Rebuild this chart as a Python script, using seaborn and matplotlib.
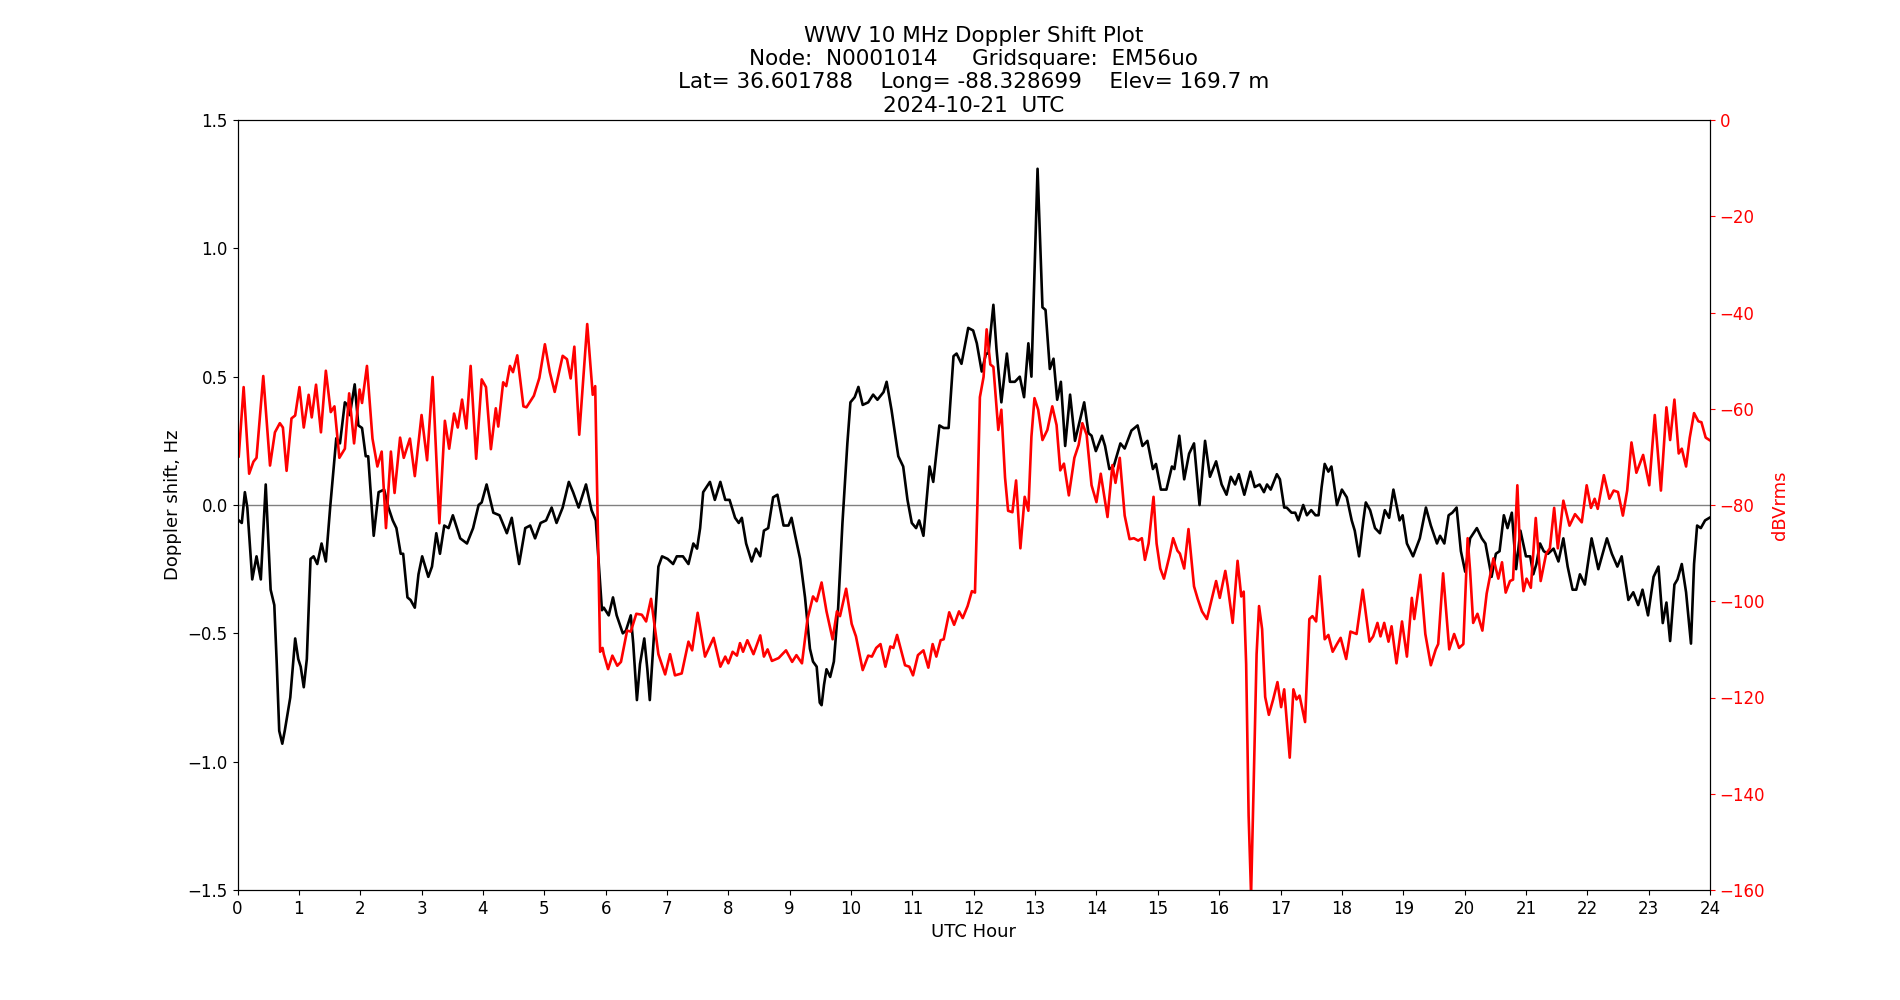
import matplotlib
matplotlib.use("Agg")
import matplotlib.pyplot as plt
import seaborn as sns
import pandas as pd

# ---- Doppler shift (Hz) vs UTC hour ----
dop_hours = [0.02, 0.07, 0.12, 0.16, 0.24, 0.31, 0.38, 0.46, 0.54, 0.60, 0.64, 0.68, 0.73, 0.77,
             0.86, 0.94, 0.99, 1.03, 1.08, 1.13, 1.19, 1.24, 1.30, 1.37, 1.44, 1.51, 1.61, 1.67,
             1.75, 1.79, 1.83, 1.91, 1.97, 2.03, 2.09, 2.13, 2.22, 2.30, 2.39, 2.46, 2.53, 2.59,
             2.66, 2.70, 2.77, 2.82, 2.89, 2.95, 3.01, 3.11, 3.17, 3.24, 3.30, 3.37, 3.44, 3.51,
             3.63, 3.74, 3.84, 3.93, 3.98, 4.06, 4.17, 4.27, 4.39, 4.47, 4.59, 4.69, 4.77, 4.85,
             4.94, 5.03, 5.12, 5.20, 5.30, 5.40, 5.47, 5.56, 5.68, 5.77, 5.84, 5.94, 5.97, 6.05,
             6.12, 6.18, 6.28, 6.33, 6.41, 6.45, 6.51, 6.56, 6.63, 6.68, 6.72, 6.79, 6.86, 6.92,
             7.01, 7.10, 7.16, 7.26, 7.35, 7.43, 7.49, 7.54, 7.59, 7.70, 7.78, 7.87, 7.95, 8.02,
             8.11, 8.17, 8.22, 8.29, 8.38, 8.45, 8.52, 8.58, 8.65, 8.73, 8.80, 8.90, 8.98, 9.03,
             9.09, 9.17, 9.25, 9.33, 9.38, 9.44, 9.49, 9.52, 9.56, 9.60, 9.66, 9.72, 9.79, 9.86,
             9.94, 9.99, 10.06, 10.12, 10.19, 10.28, 10.36, 10.43, 10.53, 10.58, 10.66, 10.77,
             10.85, 10.92, 10.99, 11.06, 11.11, 11.18, 11.28, 11.34, 11.44, 11.51, 11.59, 11.67,
             11.72, 11.78, 11.80, 11.91, 11.99, 12.05, 12.13, 12.20, 12.24, 12.32, 12.37, 12.45,
             12.54, 12.59, 12.67, 12.75, 12.82, 12.89, 12.94, 13.04, 13.12, 13.17, 13.24, 13.30,
             13.36, 13.42, 13.49, 13.57, 13.65, 13.73, 13.80, 13.87, 13.92, 13.99, 14.09, 14.14,
             14.21, 14.28, 14.39, 14.46, 14.57, 14.67, 14.75, 14.83, 14.92, 14.97, 15.05, 15.14,
             15.23, 15.27, 15.35, 15.43, 15.51, 15.59, 15.68, 15.77, 15.85, 15.95, 16.04, 16.12,
             16.19, 16.26, 16.32, 16.41, 16.51, 16.58, 16.66, 16.73, 16.78, 16.84, 16.94, 16.99,
             17.06, 17.10, 17.18, 17.24, 17.29, 17.37, 17.43, 17.50, 17.57, 17.62, 17.67, 17.72,
             17.78, 17.83, 17.92, 18.00, 18.08, 18.16, 18.21, 18.28, 18.35, 18.39, 18.46, 18.54,
             18.62, 18.70, 18.77, 18.84, 18.94, 18.99, 19.06, 19.16, 19.27, 19.37, 19.45, 19.55,
             19.60, 19.67, 19.74, 19.80, 19.87, 19.94, 20.01, 20.09, 20.20, 20.28, 20.34, 20.44,
             20.51, 20.57, 20.64, 20.70, 20.77, 20.84, 20.91, 21.00, 21.07, 21.12, 21.17, 21.23,
             21.29, 21.36, 21.45, 21.53, 21.61, 21.68, 21.76, 21.82, 21.88, 21.96, 22.07, 22.18,
             22.32, 22.40, 22.49, 22.56, 22.67, 22.75, 22.83, 22.90, 22.99, 23.08, 23.16, 23.23,
             23.29, 23.35, 23.42, 23.47, 23.54, 23.61, 23.69, 23.74, 23.79, 23.85, 23.92, 23.99]
dop_shift = [-0.06, -0.07, 0.05, -0.01, -0.29, -0.20, -0.29, 0.08, -0.33, -0.39, -0.62, -0.88, -0.93, -0.88,
             -0.75, -0.52, -0.60, -0.63, -0.71, -0.60, -0.21, -0.20, -0.23, -0.15, -0.22, -0.01, 0.26, 0.24,
             0.40, 0.39, 0.35, 0.47, 0.31, 0.30, 0.19, 0.19, -0.12, 0.05, 0.06, -0.01, -0.06, -0.09,
             -0.19, -0.19, -0.36, -0.37, -0.40, -0.27, -0.20, -0.28, -0.24, -0.11, -0.19, -0.08, -0.09, -0.04,
             -0.13, -0.15, -0.09, 0.00, 0.01, 0.08, -0.03, -0.04, -0.11, -0.05, -0.23, -0.09, -0.08, -0.13,
             -0.07, -0.06, -0.01, -0.07, -0.01, 0.09, 0.05, -0.01, 0.08, -0.02, -0.06, -0.41, -0.40, -0.43,
             -0.36, -0.43, -0.50, -0.49, -0.43, -0.54, -0.76, -0.62, -0.52, -0.64, -0.76, -0.50, -0.24, -0.20,
             -0.21, -0.23, -0.20, -0.20, -0.23, -0.15, -0.17, -0.09, 0.05, 0.09, 0.02, 0.09, 0.02, 0.02,
             -0.05, -0.07, -0.05, -0.15, -0.22, -0.17, -0.20, -0.10, -0.09, 0.03, 0.04, -0.08, -0.08, -0.05,
             -0.12, -0.21, -0.36, -0.56, -0.61, -0.63, -0.77, -0.78, -0.70, -0.64, -0.67, -0.61, -0.40, -0.07,
             0.24, 0.40, 0.42, 0.46, 0.39, 0.40, 0.43, 0.41, 0.44, 0.48, 0.37, 0.19,
             0.15, 0.02, -0.07, -0.09, -0.06, -0.12, 0.15, 0.09, 0.31, 0.30, 0.30, 0.58,
             0.59, 0.56, 0.55, 0.69, 0.68, 0.63, 0.52, 0.59, 0.59, 0.78, 0.61, 0.40,
             0.59, 0.48, 0.48, 0.50, 0.42, 0.63, 0.50, 1.31, 0.77, 0.76, 0.53, 0.57,
             0.41, 0.48, 0.23, 0.43, 0.25, 0.33, 0.40, 0.28, 0.27, 0.21, 0.27, 0.23,
             0.14, 0.15, 0.24, 0.22, 0.29, 0.31, 0.23, 0.25, 0.14, 0.16, 0.06, 0.06,
             0.15, 0.14, 0.27, 0.10, 0.20, 0.24, 0.00, 0.25, 0.11, 0.17, 0.08, 0.04,
             0.11, 0.08, 0.12, 0.04, 0.13, 0.07, 0.08, 0.05, 0.08, 0.06, 0.12, 0.10,
             -0.01, -0.01, -0.03, -0.03, -0.06, 0.00, -0.04, -0.02, -0.04, -0.04, 0.07, 0.16,
             0.13, 0.15, 0.00, 0.06, 0.03, -0.06, -0.10, -0.20, -0.06, 0.01, -0.02, -0.09,
             -0.11, -0.02, -0.05, 0.06, -0.06, -0.04, -0.15, -0.20, -0.13, -0.01, -0.08, -0.15,
             -0.12, -0.15, -0.04, -0.03, -0.01, -0.18, -0.26, -0.13, -0.09, -0.13, -0.15, -0.28,
             -0.19, -0.18, -0.04, -0.09, -0.03, -0.25, -0.10, -0.20, -0.20, -0.27, -0.23, -0.15,
             -0.18, -0.19, -0.17, -0.22, -0.13, -0.24, -0.33, -0.33, -0.27, -0.31, -0.13, -0.25,
             -0.13, -0.19, -0.24, -0.20, -0.37, -0.34, -0.39, -0.33, -0.43, -0.28, -0.24, -0.46,
             -0.38, -0.53, -0.31, -0.29, -0.23, -0.34, -0.54, -0.23, -0.08, -0.09, -0.06, -0.05]

# ---- Received signal level (dBVrms) vs UTC hour ----
amp_hours = [0.02, 0.10, 0.19, 0.26, 0.31, 0.42, 0.53, 0.61, 0.69, 0.74, 0.80, 0.88, 0.94, 1.01,
             1.08, 1.16, 1.21, 1.28, 1.36, 1.44, 1.52, 1.58, 1.66, 1.75, 1.82, 1.90, 1.99, 2.03,
             2.11, 2.20, 2.28, 2.35, 2.42, 2.50, 2.56, 2.65, 2.71, 2.81, 2.89, 3.00, 3.09, 3.18,
             3.29, 3.38, 3.45, 3.53, 3.59, 3.66, 3.73, 3.80, 3.89, 3.98, 4.05, 4.13, 4.21, 4.25,
             4.33, 4.38, 4.44, 4.49, 4.56, 4.66, 4.71, 4.83, 4.92, 5.01, 5.09, 5.17, 5.30, 5.37,
             5.43, 5.49, 5.57, 5.70, 5.79, 5.83, 5.91, 5.95, 5.97, 6.04, 6.11, 6.19, 6.25, 6.35,
             6.41, 6.50, 6.59, 6.66, 6.74, 6.86, 6.97, 7.05, 7.13, 7.24, 7.35, 7.41, 7.50, 7.62,
             7.76, 7.87, 7.95, 8.00, 8.07, 8.14, 8.19, 8.24, 8.31, 8.41, 8.52, 8.58, 8.64, 8.71,
             8.82, 8.94, 9.04, 9.11, 9.20, 9.29, 9.38, 9.44, 9.52, 9.60, 9.70, 9.77, 9.82, 9.92,
             10.01, 10.08, 10.19, 10.28, 10.34, 10.41, 10.48, 10.56, 10.64, 10.69, 10.75, 10.88,
             10.95, 11.01, 11.09, 11.18, 11.26, 11.33, 11.39, 11.46, 11.51, 11.60, 11.68, 11.76,
             11.82, 11.90, 11.97, 12.02, 12.06, 12.10, 12.16, 12.21, 12.27, 12.32, 12.40, 12.45,
             12.51, 12.56, 12.63, 12.69, 12.76, 12.83, 12.89, 12.94, 12.99, 13.05, 13.12, 13.20,
             13.28, 13.35, 13.41, 13.47, 13.55, 13.64, 13.71, 13.77, 13.84, 13.92, 14.00, 14.07,
             14.18, 14.26, 14.31, 14.38, 14.46, 14.54, 14.61, 14.68, 14.74, 14.79, 14.85, 14.93,
             14.98, 15.04, 15.10, 15.19, 15.25, 15.32, 15.36, 15.43, 15.50, 15.59, 15.65, 15.72,
             15.80, 15.88, 15.95, 16.01, 16.10, 16.14, 16.22, 16.30, 16.36, 16.40, 16.44, 16.48,
             16.52, 16.56, 16.61, 16.65, 16.70, 16.75, 16.81, 16.88, 16.95, 17.01, 17.06, 17.15,
             17.21, 17.26, 17.31, 17.40, 17.47, 17.52, 17.58, 17.64, 17.72, 17.78, 17.85, 17.92,
             17.98, 18.07, 18.14, 18.24, 18.34, 18.45, 18.51, 18.58, 18.63, 18.69, 18.76, 18.81,
             18.89, 18.98, 19.06, 19.14, 19.18, 19.28, 19.36, 19.45, 19.53, 19.57, 19.65, 19.75,
             19.83, 19.91, 19.98, 20.05, 20.09, 20.14, 20.21, 20.29, 20.36, 20.47, 20.55, 20.61,
             20.67, 20.74, 20.79, 20.86, 20.91, 20.96, 21.01, 21.08, 21.16, 21.24, 21.33, 21.39,
             21.46, 21.52, 21.61, 21.71, 21.80, 21.91, 21.99, 22.06, 22.12, 22.17, 22.27, 22.36,
             22.43, 22.50, 22.58, 22.65, 22.72, 22.80, 22.91, 23.01, 23.10, 23.20, 23.29, 23.35,
             23.42, 23.49, 23.54, 23.61, 23.67, 23.74, 23.81, 23.86, 23.93, 23.99]
amp_dbv = [-69.9, -55.5, -73.5, -71.0, -70.2, -53.2, -71.8, -64.9, -63.0, -63.9, -72.9, -62.0, -61.4, -55.5,
           -63.9, -57.1, -61.8, -55.0, -64.9, -52.1, -60.7, -59.5, -70.2, -68.3, -56.8, -67.2, -56.0, -58.8,
           -51.1, -66.2, -72.0, -68.9, -84.8, -68.9, -77.5, -66.0, -70.2, -66.2, -74.0, -61.3, -70.7, -53.4,
           -83.8, -62.5, -68.3, -61.0, -63.9, -58.1, -64.1, -51.1, -70.4, -53.9, -55.5, -68.4, -59.9, -63.7,
           -54.5, -55.3, -51.1, -52.4, -48.9, -59.5, -59.7, -57.3, -53.6, -46.6, -52.4, -56.5, -49.0, -49.7,
           -53.7, -47.1, -65.4, -42.4, -57.1, -55.3, -110.5, -109.7, -111.0, -114.1, -111.3, -113.4, -112.6, -106.1,
           -106.3, -102.6, -102.8, -104.2, -99.5, -111.0, -115.2, -111.0, -115.4, -115.0, -108.4, -110.2, -102.4, -111.5,
           -107.6, -113.6, -111.5, -112.9, -110.5, -111.3, -108.7, -110.5, -108.1, -111.0, -107.1, -111.5, -110.0, -112.4,
           -111.8, -110.2, -112.6, -111.2, -112.9, -103.7, -99.0, -100.0, -96.1, -102.1, -107.9, -102.1, -103.1, -97.4,
           -104.7, -107.3, -114.3, -111.3, -111.5, -109.7, -108.9, -113.6, -109.4, -109.7, -107.0, -113.3,
           -113.6, -115.4, -111.2, -110.2, -113.8, -108.9, -111.5, -108.1, -107.9, -102.3, -104.9, -102.1,
           -103.5, -101.0, -97.9, -98.2, -79.6, -57.6, -53.4, -43.5, -50.8, -51.3, -64.4, -60.2,
           -74.3, -81.2, -81.5, -74.9, -89.0, -78.3, -81.2, -65.8, -57.8, -60.2, -66.5, -64.4,
           -59.5, -63.4, -72.8, -71.4, -78.0, -70.2, -67.5, -63.0, -65.4, -75.9, -79.4, -73.5,
           -82.5, -71.7, -75.4, -70.2, -82.2, -87.1, -86.9, -87.4, -86.9, -91.4, -88.0, -78.3,
           -88.0, -93.2, -95.3, -90.6, -86.9, -89.5, -90.1, -93.2, -85.0, -96.9, -99.5, -102.1,
           -103.7, -99.5, -95.8, -99.3, -93.7, -96.9, -104.5, -91.6, -99.0, -98.0, -113.1, -144.5,
           -161.0, -139.3, -111.0, -101.0, -105.8, -119.9, -123.6, -120.4, -116.8, -122.0, -118.3, -132.5,
           -118.3, -120.4, -119.6, -125.1, -103.7, -103.1, -104.2, -94.8, -107.9, -107.0, -110.5, -108.9,
           -107.6, -112.0, -106.3, -106.8, -97.6, -108.4, -107.3, -104.5, -107.3, -104.5, -108.4, -105.2,
           -112.9, -104.2, -111.5, -99.3, -103.7, -94.5, -106.8, -113.3, -110.0, -108.9, -94.2, -110.0,
           -106.8, -109.7, -108.9, -86.9, -93.7, -104.5, -102.6, -106.1, -98.4, -91.1, -95.3, -91.9,
           -98.2, -95.8, -95.5, -75.9, -91.1, -97.9, -95.3, -97.2, -82.7, -95.8, -90.1, -89.0,
           -80.6, -89.0, -79.1, -84.3, -81.9, -83.6, -75.9, -80.6, -78.7, -80.8, -73.8, -78.7,
           -77.0, -77.3, -82.2, -77.0, -67.0, -73.3, -69.6, -75.9, -61.3, -77.0, -59.7, -66.5,
           -58.1, -69.3, -68.3, -72.0, -66.0, -60.9, -62.6, -62.8, -66.0, -66.5]

x_ticks = list(range(0, 25))
title_text = ("WWV 10 MHz Doppler Shift Plot\n"
              "Node:  N0001014     Gridsquare:  EM56uo\n"
              "Lat= 36.601788    Long= -88.328699    Elev= 169.7 m\n"
              "2024-10-21  UTC")

df_dop = pd.DataFrame({"hour": dop_hours, "shift": dop_shift})
df_amp = pd.DataFrame({"hour": amp_hours, "dbv": amp_dbv})

plt.rcParams['font.family'] = ['DejaVu Sans']
fig, ax = plt.subplots(figsize=(19, 10), dpi=100)

sns.lineplot(data=df_dop, x="hour", y="shift", ax=ax, color="black", linewidth=1.9,
             estimator=None, sort=False, zorder=3)
ax.axhline(0, color="grey", linewidth=1.0, zorder=1)
ax.set_xlim(0, 24)
ax.set_ylim(-1.5, 1.5)
ax.set_xticks(x_ticks)
ax.set_xlabel("UTC Hour", fontsize=13)
ax.set_ylabel("Doppler shift, Hz", fontsize=13)
ax.tick_params(labelsize=12)

ax2 = ax.twinx()
sns.lineplot(data=df_amp, x="hour", y="dbv", ax=ax2, color="red", linewidth=1.9,
             estimator=None, sort=False, zorder=2)
ax2.set_ylim(-160, 0)
ax2.set_xlim(0, 24)
ax2.set_ylabel("dBVrms", color="red", fontsize=13)
ax2.tick_params(axis="y", labelcolor="red", labelsize=12, color="red")

ax.set_title(title_text, fontsize=15.5)

fig.savefig("out.png", dpi=100)
